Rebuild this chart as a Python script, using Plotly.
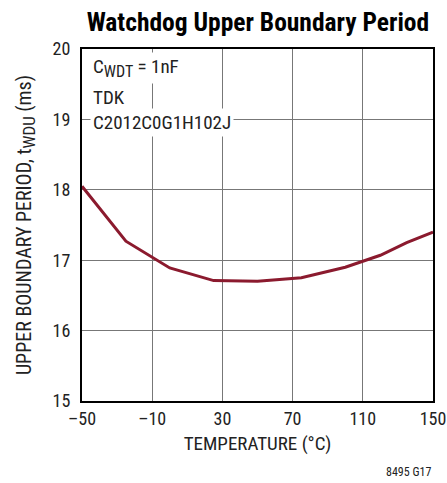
import plotly.graph_objects as go

temperature = [-50, -25, 0, 25, 50, 75, 100, 120, 135, 150]
period_ms = [18.05, 17.27, 16.89, 16.71, 16.70, 16.75, 16.90, 17.07, 17.25, 17.40]
x_ticks = [-50, -10, 30, 70, 110, 150]
y_ticks = [15, 16, 17, 18, 19, 20]
x_tick_labels = ["–50", "–10", "30", "70", "110", "150"]

FONT = "Liberation Sans Narrow, Arial Narrow, Roboto Condensed, sans-serif"

fig = go.Figure()
fig.add_trace(go.Scatter(x=temperature, y=period_ms, mode="lines",
                         line=dict(color="#8B1A2E", width=3), showlegend=False))

fig.update_layout(
    width=447, height=483,
    margin=dict(l=82, r=14, t=49, b=82),
    paper_bgcolor="white", plot_bgcolor="white",
    font=dict(family=FONT, size=18, color="#222"),
    title=dict(text="<b>Watchdog Upper Boundary Period</b>", x=0.577, xanchor="center",
               xref="container", yref="container",
               y=0.955, yanchor="middle", font=dict(family=FONT, size=25.5, color="black")),
    xaxis=dict(range=[-50, 150], tickvals=x_ticks, ticktext=x_tick_labels,
               showgrid=True, gridcolor="#777", gridwidth=1,
               showline=True, linecolor="black", linewidth=2, mirror=True,
               ticks="", zeroline=False, automargin=False,
               title=dict(text="TEMPERATURE (°C)", standoff=9, font=dict(size=19))),
    yaxis=dict(range=[15, 20], tickvals=y_ticks,
               showgrid=True, gridcolor="#777", gridwidth=1,
               showline=True, linecolor="black", linewidth=2, mirror=True,
               ticks="", zeroline=False, automargin=False, ticklabelstandoff=6,
               title=dict(text='UPPER BOUNDARY PERIOD, t<sub><span style="font-size:17px">WDU</span></sub> (ms)',
                          standoff=16, font=dict(size=20))),
)

notes = ['C<sub><span style="font-size:16px">WDT</span></sub> = 1nF', "TDK", "C2012C0G1H102J"]
ys = [19.73, 19.31, 18.96]
for txt, yv in zip(notes, ys):
    fig.add_annotation(x=-45.5, y=yv, xref="x", yref="y", text=txt, showarrow=False,
                       xanchor="left", yanchor="middle", bgcolor="white",
                       font=dict(size=19, color="#222"), borderpad=2)

fig.add_annotation(x=1.0, y=-0.2017, xref="paper", yref="paper", text="8495 G17",
                   showarrow=False, xanchor="right", yanchor="middle",
                   font=dict(size=12, color="#222"))

fig.write_html("out.html", config={"displayModeBar": False},
               post_script="document.body.style.margin='0';document.body.style.overflow='hidden';")
